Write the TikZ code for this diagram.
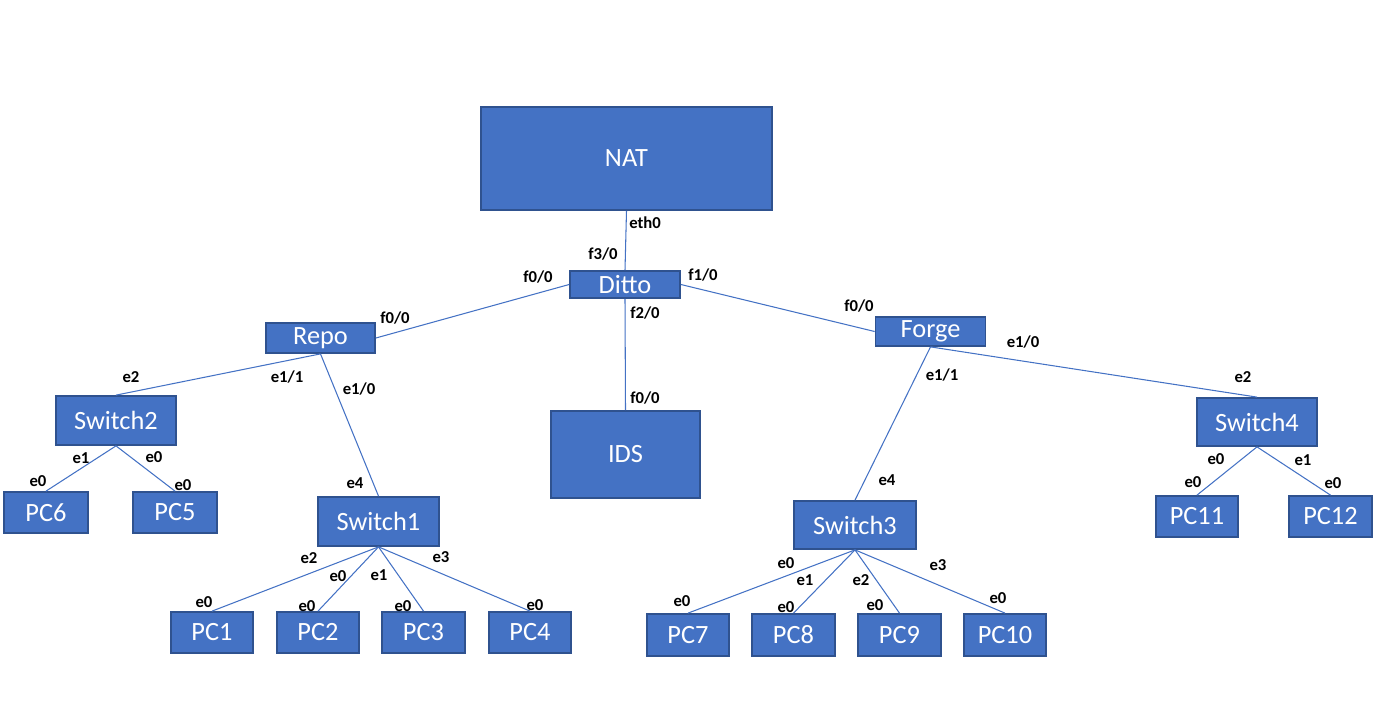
\documentclass[tikz,border=0pt]{standalone}
\usepackage{fontspec}
\setmainfont{Carlito}
\usepackage{tikz}
\usetikzlibrary{positioning}
\definecolor{MyFill}{RGB}{68,114,196}
\definecolor{MyEdge}{RGB}{47,82,143}
\definecolor{MyLink}{RGB}{68,114,196}
\tikzset{
    device/.style={
      rectangle,
      fill=MyFill,
      draw=MyEdge,
      line width=1pt,
      text=white,
      inner sep=0pt,
      font=\fontsize{15}{18}\selectfont
    },
    boxdim/.style 2 args={
      minimum width=#1*0.02cm,
      minimum height=#2*0.02cm
    },
    port/.style={
      inner sep=0pt,
      text=black,
      font=\fontsize{9.5}{11}\selectfont\bfseries
    },
    link/.style={
      draw=MyLink,
      line width=0.6pt
    },
}

\begin{document}
\begin{tikzpicture}[x=0.02cm,y=-0.02cm]
    \useasboundingbox (0,0) rectangle (1380,717);

    % core
    \node[device,boxdim={291}{103}] at (626.5,158.5) (nat) {NAT};
    \node[device,boxdim={110}{27}] at (625,284.5) (ditto) {Ditto};
    \node[device,boxdim={109}{30}] at (320.5,338) (repo) {Repo};
    \node[device,boxdim={110}{29}] at (930.5,331.5) (forge) {Forge};
    \node[device,boxdim={149}{87}] at (625.5,454.5) (ids) {IDS};

    % switches
    \node[device,boxdim={120}{49}] at (116,420.5) (sw2) {Switch2};
    \node[device,boxdim={121}{49}] at (378.5,521.5) (sw1) {Switch1};
    \node[device,boxdim={122}{48}] at (855,525) (sw3) {Switch3};
    \node[device,boxdim={120}{48}] at (1257,422) (sw4) {Switch4};

    % hosts
    \node[device,boxdim={84}{41}] at (46,512.5) (pc6) {PC6};
    \node[device,boxdim={84}{41}] at (175,512.5) (pc5) {PC5};
    \node[device,boxdim={82}{41}] at (212,632.5) (pc1) {PC1};
    \node[device,boxdim={82}{41}] at (318,632.5) (pc2) {PC2};
    \node[device,boxdim={83}{41}] at (423.5,632.5) (pc3) {PC3};
    \node[device,boxdim={82}{41}] at (530,632.5) (pc4) {PC4};
    \node[device,boxdim={82}{42}] at (688,635) (pc7) {PC7};
    \node[device,boxdim={83}{42}] at (793.5,635) (pc8) {PC8};
    \node[device,boxdim={83}{42}] at (899.5,635) (pc9) {PC9};
    \node[device,boxdim={82}{42}] at (1005,635) (pc10) {PC10};
    \node[device,boxdim={82}{41}] at (1197,516.5) (pc11) {PC11};
    \node[device,boxdim={83}{41}] at (1330.5,516.5) (pc12) {PC12};

    \draw[link] (nat.south) -- (ditto.north);
    \draw[link] (ditto.west) -- (repo.east);
    \draw[link] (ditto.east) -- (forge.west);
    \draw[link] (ditto.south) -- (ids.north);
    \draw[link] (repo.south) -- (sw2.north);
    \draw[link] (repo.south) -- (sw1.north);
    \draw[link] (forge.south) -- (sw3.north);
    \draw[link] (forge.south) -- (sw4.north);
    \foreach \pc in {pc6,pc5} {
      \draw[link] (sw2.south) -- (\pc.north);
    }
    \foreach \pc in {pc1,pc2,pc3,pc4} {
      \draw[link] (sw1.south) -- (\pc.north);
    }
    \foreach \pc in {pc7,pc8,pc9,pc10} {
      \draw[link] (sw3.south) -- (\pc.north);
    }
    \foreach \pc in {pc11,pc12} {
      \draw[link] (sw4.south) -- (\pc.north);
    }

    % interface names
    \foreach \x/\y/\t [count=\i] in {
        645/223/eth0, 603/254/f3\slash0, 538/277/f0\slash0, 703/275/f1\slash0,
        645/313/f2\slash0, 395/318/f0\slash0, 645/398/f0\slash0, 859/306/f0\slash0,
        1023/342/e1\slash0, 942/375/e1\slash1, 887/480/e4,
        131/377/e2, 287/377/e1\slash1, 359/389/e1\slash0,
        81/458/e1, 154/457/e0, 38/481/e0, 183/485/e0, 355/483/e4,
        309/558/e2, 338/576/e0, 379/575/e1, 441/557/e3,
        204/602/e0, 307/606/e0, 403/606/e0, 535/605/e0,
        786/563/e0, 805/580/e1, 861/580/e2, 938/565/e3,
        682/601/e0, 786/607/e0, 875/605/e0, 998/598/e0,
        1243/377/e2, 1216/459/e0, 1303/460/e1, 1193/482/e0, 1333/483/e0} {
      \node[port] at (\x,\y) (port\i) {\t};
    }

\end{tikzpicture}
\end{document}
